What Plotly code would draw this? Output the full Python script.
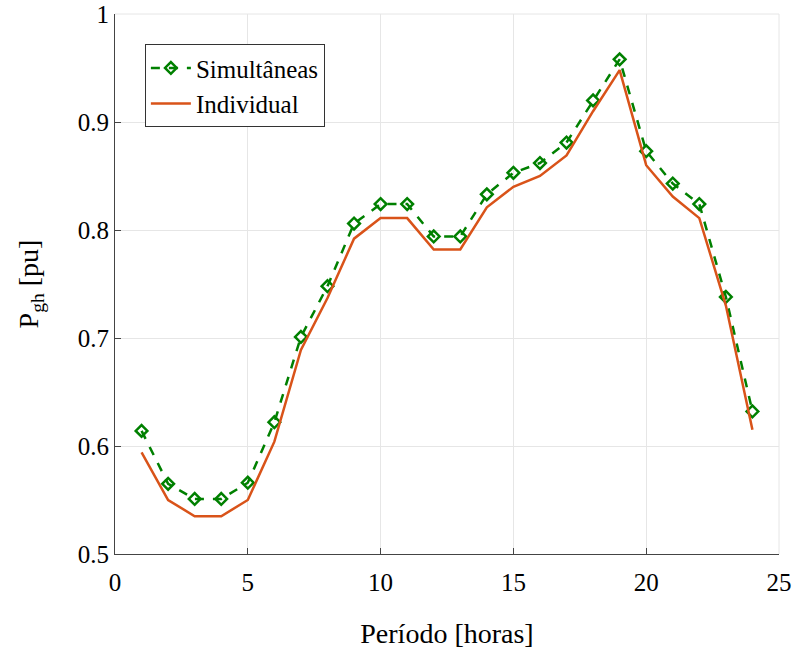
import plotly.graph_objects as go

hours = list(range(1, 25))
simultaneas = [0.614, 0.565, 0.551, 0.551, 0.566, 0.622, 0.701, 0.748, 0.806, 0.824,
               0.824, 0.794, 0.794, 0.833, 0.853, 0.862, 0.881, 0.920, 0.958, 0.873,
               0.843, 0.824, 0.738, 0.632]
individual = [0.594, 0.550, 0.535, 0.535, 0.550, 0.604, 0.689, 0.737, 0.792, 0.811,
              0.811, 0.782, 0.782, 0.821, 0.840, 0.850, 0.869, 0.910, 0.948, 0.860,
              0.831, 0.811, 0.730, 0.615]
x_ticks = [0, 5, 10, 15, 20, 25]
y_ticks = [0.5, 0.6, 0.7, 0.8, 0.9, 1.0]
y_tick_text = ["0.5", "0.6", "0.7", "0.8", "0.9", "1"]

FONT = "Liberation Serif"

fig = go.Figure()
fig.add_trace(go.Scatter(
    x=hours, y=simultaneas, name="Simultâneas", mode="lines+markers",
    line=dict(color="#008000", width=2.5, dash="dash"),
    marker=dict(symbol="diamond-open", size=9, color="#008000", line=dict(width=2.5, color="#008000")),
))
fig.add_trace(go.Scatter(
    x=hours, y=individual, name="Individual", mode="lines",
    line=dict(color="#D95319", width=2.5),
))

fig.update_layout(
    width=795, height=657,
    margin=dict(l=115, r=16, t=14, b=103, autoexpand=False),
    paper_bgcolor="white", plot_bgcolor="white",
    font=dict(family=FONT, size=22, color="black"),
    showlegend=True,
    legend=dict(
        x=0.045, y=0.944, xanchor="left", yanchor="top",
        bgcolor="white", bordercolor="#333333", borderwidth=1,
        font=dict(family=FONT, size=25, color="black"),
        itemwidth=40, tracegroupgap=0,
    ),
)
fig.update_xaxes(
    range=[0, 25], tickvals=x_ticks, showgrid=True, gridcolor="#E6E6E6", gridwidth=1,
    showline=True, linecolor="#444444", linewidth=1, ticks="inside", ticklen=6,
    tickcolor="#444444", zeroline=False, mirror=False, automargin=False,
    ticklabelstandoff=6,
    tickfont=dict(family=FONT, size=25, color="black"),
    title=dict(text="Período [horas]", font=dict(family=FONT, size=28, color="black"), standoff=28),
)
fig.update_yaxes(
    range=[0.5, 1.0], tickvals=y_ticks, ticktext=y_tick_text, showgrid=True,
    gridcolor="#E6E6E6", gridwidth=1,
    showline=True, linecolor="#444444", linewidth=1, ticks="inside", ticklen=6,
    tickcolor="#444444", zeroline=False, mirror=False, automargin=False,
    tickfont=dict(family=FONT, size=25, color="black"),
    title=dict(text="P<sub>gh</sub> [pu]", font=dict(family=FONT, size=28, color="black"), standoff=30),
)
fig.add_shape(type="line", xref="paper", yref="paper", x0=0, x1=1, y0=1, y1=1,
              line=dict(color="#E6E6E6", width=1))
fig.add_shape(type="line", xref="paper", yref="paper", x0=1, x1=1, y0=0, y1=1,
              line=dict(color="#E6E6E6", width=1))

fig.write_html("out.html")
